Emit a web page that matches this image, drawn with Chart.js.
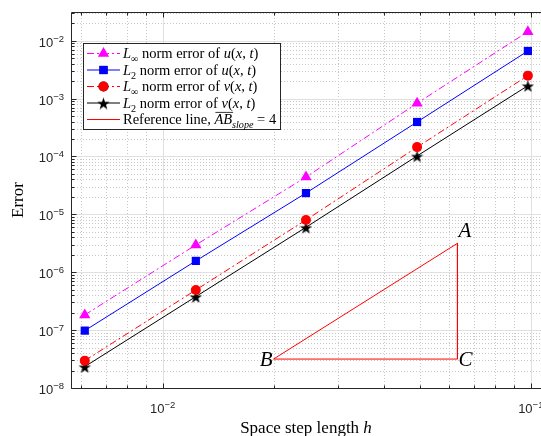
<!DOCTYPE html>
<html>
<head>
<meta charset="utf-8">
<script src="https://cdn.jsdelivr.net/npm/chart.js@4.4.0/dist/chart.umd.min.js"></script>
<style>
  html, body { margin: 0; padding: 0; background: #fff; }
  #wrap { width: 541px; height: 436px; position: relative; }
</style>
</head>
<body>
<div id="wrap"><canvas id="errChart"></canvas></div>
<script>
// space step lengths (h) and the four error series
const hValues = [0.00614, 0.0123, 0.0245, 0.0491, 0.0982];
const linfU = [1.83e-7, 2.96e-6, 4.4e-5, 8.3e-4, 1.43e-2];
const l2U = [9.8e-8, 1.57e-6, 2.33e-5, 3.94e-4, 6.64e-3];
const linfV = [2.97e-8, 4.94e-7, 8.0e-6, 1.45e-4, 2.49e-3];
const l2V = [2.34e-8, 3.79e-7, 5.98e-6, 1.02e-4, 1.67e-3];

// reference triangle B -> A -> C -> B
const refX = [0.02, 0.0632, 0.0632, 0.02];
const refY = [3.16e-8, 3.16e-6, 3.16e-8, 3.16e-8];
const refNames = ['B', 'A', 'C'];

const xTickPowers = [-2, -1];
const yTickPowers = [-8, -7, -6, -5, -4, -3, -2];

const serif = '"Liberation Serif", "DejaVu Serif", serif';
const sans = '"Liberation Sans", Arial, sans-serif';
const dashDot = [7, 3, 2, 3];

function pts(xs, ys) {
  return xs.map((x, i) => ({ x: x, y: ys[i] }));
}

function makeStar(size, color) {
  const c = document.createElement('canvas');
  c.width = size; c.height = size;
  const g = c.getContext('2d');
  const R = size / 2, r = R * 0.4;
  const cx = size / 2, cy = size / 2 + 1;
  g.beginPath();
  for (let i = 0; i < 10; i++) {
    const a = -Math.PI / 2 + i * Math.PI / 5;
    const rr = i % 2 === 0 ? R : r;
    g.lineTo(cx + rr * Math.cos(a), cy + rr * Math.sin(a));
  }
  g.closePath();
  g.fillStyle = color;
  g.fill();
  return c;
}
const starImg = makeStar(13, '#000');

// rich text: [text, style] with style n / i / sub / subi / ov
function drawRich(ctx, x, y, parts, size) {
  let cx = x;
  parts.forEach(([t, s]) => {
    let fs = size, dy = 0, it = false;
    if (s === 'i' || s === 'ov') it = true;
    if (s === 'sub' || s === 'subi') { fs = size * 0.7; dy = size * 0.28; }
    if (s === 'subi') it = true;
    ctx.font = (it ? 'italic ' : '') + fs + 'px ' + serif;
    ctx.fillText(t, cx, y + dy);
    const w = ctx.measureText(t).width;
    if (s === 'ov') {
      ctx.save();
      ctx.lineWidth = 0.8;
      ctx.strokeStyle = '#000';
      ctx.setLineDash([]);
      ctx.beginPath();
      ctx.moveTo(cx + 1, y - size * 0.8);
      ctx.lineTo(cx + w + 1, y - size * 0.8);
      ctx.stroke();
      ctx.restore();
    }
    cx += w;
  });
  return cx;
}

const legendRows = [
  [['L', 'i'], ['\u221E', 'sub'], [' norm error of ', 'n'], ['u', 'i'], ['(', 'n'], ['x', 'i'], [', ', 'n'], ['t', 'i'], [')', 'n']],
  [['L', 'i'], ['2', 'sub'], [' norm error of ', 'n'], ['u', 'i'], ['(', 'n'], ['x', 'i'], [', ', 'n'], ['t', 'i'], [')', 'n']],
  [['L', 'i'], ['\u221E', 'sub'], [' norm error of ', 'n'], ['v', 'i'], ['(', 'n'], ['x', 'i'], [', ', 'n'], ['t', 'i'], [')', 'n']],
  [['L', 'i'], ['2', 'sub'], [' norm error of ', 'n'], ['v', 'i'], ['(', 'n'], ['x', 'i'], [', ', 'n'], ['t', 'i'], [')', 'n']],
  [['Reference line, ', 'n'], ['AB', 'ov'], ['slope', 'subi'], [' = 4', 'n']]
];

function drawPow(ctx, p, x, y, align) {
  const base = '10', sup = String(p).replace('-', '\u2212');
  ctx.font = '13px ' + sans;
  const bw = ctx.measureText(base).width;
  ctx.font = '9.5px ' + sans;
  const sw = ctx.measureText(sup).width;
  let left = align === 'right' ? x - bw - sw : x - (bw + sw) / 2;
  ctx.fillStyle = '#262626';
  ctx.textAlign = 'left';
  ctx.font = '13px ' + sans;
  ctx.fillText(base, left, y);
  ctx.font = '9.5px ' + sans;
  ctx.fillText(sup, left + bw, y - 5);
}

const decor = {
  id: 'decor',
  beforeDatasetsDraw(chart) {
    const { ctx, chartArea: a, scales: { x, y } } = chart;
    ctx.save();
    ctx.lineWidth = 1;
    // minor grid
    ctx.strokeStyle = '#c8c8c8';
    ctx.setLineDash([1, 2]);
    for (let p = -3; p <= -1; p++) {
      for (let m = 2; m <= 9; m++) {
        const v = m * Math.pow(10, p);
        if (v < x.min || v > x.max) continue;
        const px = Math.round(x.getPixelForValue(v)) + 0.5;
        ctx.beginPath(); ctx.moveTo(px, a.top); ctx.lineTo(px, a.bottom); ctx.stroke();
      }
    }
    for (let p = -8; p <= -2; p++) {
      for (let m = 2; m <= 9; m++) {
        const v = m * Math.pow(10, p);
        if (v < y.min || v > y.max) continue;
        const py = Math.round(y.getPixelForValue(v)) + 0.5;
        ctx.beginPath(); ctx.moveTo(a.left, py); ctx.lineTo(a.right, py); ctx.stroke();
      }
    }
    // major grid
    ctx.setLineDash([]);
    ctx.strokeStyle = '#e0e0e0';
    xTickPowers.forEach(p => {
      const px = Math.round(x.getPixelForValue(Math.pow(10, p))) + 0.5;
      ctx.beginPath(); ctx.moveTo(px, a.top); ctx.lineTo(px, a.bottom); ctx.stroke();
    });
    yTickPowers.forEach(p => {
      const py = Math.round(y.getPixelForValue(Math.pow(10, p))) + 0.5;
      ctx.beginPath(); ctx.moveTo(a.left, py); ctx.lineTo(a.right, py); ctx.stroke();
    });
    ctx.restore();
  },
  afterDatasetsDraw(chart) {
    const { ctx, chartArea: a, scales: { x, y } } = chart;
    ctx.save();
    // axes box and ticks
    ctx.strokeStyle = '#262626';
    ctx.lineWidth = 1;
    ctx.setLineDash([]);
    const L = Math.round(a.left) + 0.5, B = Math.round(a.bottom) + 0.5, T = Math.round(a.top) + 0.5;
    ctx.beginPath();
    ctx.moveTo(L, T); ctx.lineTo(L, B); ctx.lineTo(a.right, B);
    ctx.moveTo(L, T); ctx.lineTo(a.right, T);
    ctx.stroke();
    ctx.beginPath();
    for (let p = -3; p <= -1; p++) {
      for (let m = 1; m <= 9; m++) {
        const v = m * Math.pow(10, p);
        if (v < x.min || v > x.max) continue;
        const len = m === 1 ? 5 : 3;
        const px = Math.round(x.getPixelForValue(v)) + 0.5;
        ctx.moveTo(px, B); ctx.lineTo(px, B - len);
        ctx.moveTo(px, T); ctx.lineTo(px, T + len);
      }
    }
    for (let p = -8; p <= -2; p++) {
      for (let m = 1; m <= 9; m++) {
        const v = m * Math.pow(10, p);
        if (v < y.min || v > y.max) continue;
        const len = m === 1 ? 5 : 3;
        const py = Math.round(y.getPixelForValue(v)) + 0.5;
        ctx.moveTo(L, py); ctx.lineTo(L + len, py);
      }
    }
    ctx.stroke();

    // tick labels
    xTickPowers.forEach(p => drawPow(ctx, p, x.getPixelForValue(Math.pow(10, p)), 413, 'center'));
    yTickPowers.forEach(p => drawPow(ctx, p, 64, y.getPixelForValue(Math.pow(10, p)) + 6, 'right'));

    // axis titles
    ctx.fillStyle = '#000';
    ctx.textAlign = 'left';
    ctx.font = '17px ' + serif;
    const t1 = 'Space step length ';
    const w1 = ctx.measureText(t1).width;
    ctx.font = 'italic 17px ' + serif;
    const w2 = ctx.measureText('h').width;
    const sx = (a.left + a.right) / 2 - (w1 + w2) / 2;
    ctx.font = '17px ' + serif;
    ctx.fillText(t1, sx, 433);
    ctx.font = 'italic 17px ' + serif;
    ctx.fillText('h', sx + w1, 433);

    ctx.save();
    ctx.translate(23, (a.top + a.bottom) / 2);
    ctx.rotate(-Math.PI / 2);
    ctx.textAlign = 'center';
    ctx.font = '17px ' + serif;
    ctx.fillText('Error', 0, 0);
    ctx.restore();

    // triangle vertex labels
    ctx.font = 'italic 21px ' + serif;
    const bx = x.getPixelForValue(refX[0]), by = y.getPixelForValue(refY[0]);
    const ax = x.getPixelForValue(refX[1]), ay = y.getPixelForValue(refY[1]);
    const cxp = x.getPixelForValue(refX[2]), cyp = y.getPixelForValue(refY[2]);
    ctx.textAlign = 'right';
    ctx.fillText(refNames[0], bx - 1, by + 7);
    ctx.textAlign = 'left';
    ctx.fillText(refNames[1], ax + 1, ay - 6);
    ctx.fillText(refNames[2], cxp + 1, cyp + 7);

    // legend
    const lx = 83, ly = 43, lw = 197, lh = 86;
    ctx.fillStyle = '#fff';
    ctx.fillRect(lx, ly, lw, lh);
    ctx.strokeStyle = '#262626';
    ctx.lineWidth = 1;
    ctx.strokeRect(lx + 0.5, ly + 0.5, lw, lh);
    chart.data.datasets.forEach((ds, i) => {
      const ry = 53.5 + i * 16.5;
      ctx.strokeStyle = ds.borderColor;
      ctx.lineWidth = 1;
      ctx.setLineDash(ds.borderDash || []);
      ctx.beginPath(); ctx.moveTo(87, ry); ctx.lineTo(120, ry); ctx.stroke();
      ctx.setLineDash([]);
      if (ds.pointRadius > 0) {
        Chart.helpers.drawPoint(ctx, {
          pointStyle: ds.pointStyle, radius: ds.pointRadius, rotation: 0, borderWidth: 0
        }, 103.5, ry);
        ctx.fillStyle = ds.pointBackgroundColor;
        ctx.fill();
      }
      ctx.fillStyle = '#000';
      ctx.textAlign = 'left';
      ctx.textBaseline = 'alphabetic';
      drawRich(ctx, 123, ry + 4.5, legendRows[i], 14.5);
    });
    ctx.restore();
  }
};

new Chart(document.getElementById('errChart'), {
  type: 'line',
  data: {
    datasets: [
      {
        label: 'Linf u', data: pts(hValues, linfU),
        borderColor: '#ff00ff', borderWidth: 1, borderDash: dashDot,
        pointStyle: 'triangle', pointRadius: 6.5,
        pointBackgroundColor: '#ff00ff', pointBorderWidth: 0
      },
      {
        label: 'L2 u', data: pts(hValues, l2U),
        borderColor: '#0000ff', borderWidth: 1,
        pointStyle: 'rect', pointRadius: 5.8,
        pointBackgroundColor: '#0000ff', pointBorderWidth: 0
      },
      {
        label: 'Linf v', data: pts(hValues, linfV),
        borderColor: '#ff0000', borderWidth: 1, borderDash: dashDot,
        pointStyle: 'circle', pointRadius: 5,
        pointBackgroundColor: '#ff0000', pointBorderWidth: 0
      },
      {
        label: 'L2 v', data: pts(hValues, l2V),
        borderColor: '#000000', borderWidth: 1,
        pointStyle: starImg, pointRadius: 6,
        pointBackgroundColor: '#000000', pointBorderWidth: 0
      },
      {
        label: 'Reference', data: pts(refX, refY),
        borderColor: '#ff0000', borderWidth: 1,
        pointRadius: 0
      }
    ]
  },
  options: {
    responsive: true,
    maintainAspectRatio: false,
    animation: false,
    layout: { autoPadding: false, padding: { left: 71, top: 12, right: 0, bottom: 48 } },
    scales: {
      x: { type: 'logarithmic', display: false, min: 0.005633, max: 0.1066 },
      y: { type: 'logarithmic', display: false, min: 1e-8, max: 0.0313 }
    },
    plugins: { legend: { display: false }, tooltip: { enabled: false } }
  },
  plugins: [decor]
});
</script>
</body>
</html>
